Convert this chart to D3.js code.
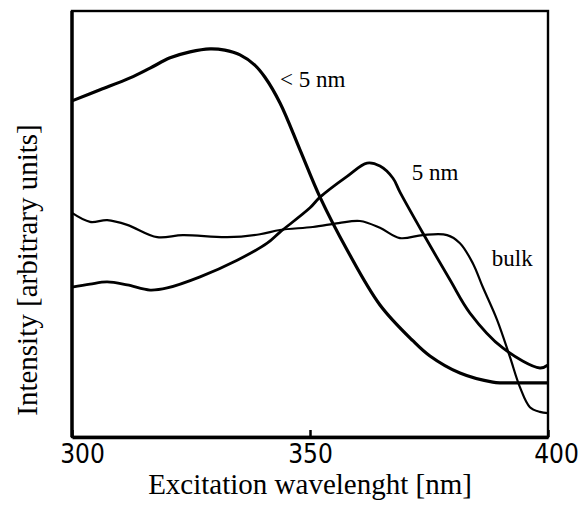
<!DOCTYPE html>
<html>
<head>
<meta charset="utf-8">
<script src="https://cdn.jsdelivr.net/npm/d3@7"></script>
<style>
  body { margin: 0; background: #fff; }
  svg { display: block; }
</style>
</head>
<body>
<svg id="chart"></svg>
<script>
// wavelength [nm] / intensity [a.u.]
const smallWl = [300, 305.9, 312.2, 316.4, 320.6, 324.8, 329.0, 332.1, 335.3, 338.4, 340.5, 343.7, 347.9, 352.1, 357.8, 364.7, 371.6, 375.2, 381.5, 388.4, 394.1, 400];
const smallI  = [78.9, 81.5, 84.3, 86.6, 89.0, 90.4, 91.1, 90.8, 89.7, 87.3, 84.5, 78.4, 67.4, 56.3, 43.9, 31.0, 22.6, 19.0, 15.0, 12.9, 12.7, 12.7];

const fiveWl = [300, 303.8, 307.4, 311.6, 316.4, 320.0, 326.9, 334.7, 341.0, 343.7, 350.0, 352.1, 357.8, 362.0, 364.7, 367.4, 368.9, 373.7, 379.4, 383.6, 390.5, 398.3, 400];
const fiveI  = [35.2, 35.9, 36.4, 35.7, 34.5, 35.0, 37.6, 41.5, 45.5, 48.1, 53.8, 56.3, 61.2, 64.3, 63.6, 60.8, 57.5, 47.9, 36.9, 29.1, 20.9, 16.2, 16.9];

const bulkWl = [300, 303.8, 307.4, 311.6, 317.9, 323.3, 332.6, 339.5, 343.7, 350.6, 356.0, 360.5, 364.7, 368.9, 373.7, 378.8, 381.5, 384.2, 386.3, 389.3, 392.0, 394.1, 396.2, 398.3, 400];
const bulkI  = [52.6, 50.5, 50.9, 49.8, 46.9, 47.4, 46.9, 47.6, 48.6, 49.3, 50.2, 50.7, 49.1, 46.7, 47.4, 47.4, 45.5, 40.8, 35.2, 27.5, 18.8, 11.7, 7.0, 5.9, 5.6];

const seriesNames = ["< 5 nm", "5 nm", "bulk"];
const labelWl = [343.7, 371.4, 388.2];
const labelI  = [82.2, 60.3, 40.1];

const xTicks = [300, 350, 400];

const W = 586, H = 511;
const margin = { top: 11, right: 38, bottom: 74, left: 72 };
const width = W - margin.left - margin.right;
const height = H - margin.top - margin.bottom;

const svg = d3.select("#chart").attr("width", W).attr("height", H);
const g = svg.append("g").attr("transform", `translate(${margin.left},${margin.top})`);

const x = d3.scaleLinear().domain([300, 400]).range([0, width]);
const y = d3.scaleLinear().domain([0, 100]).range([height, 0]);

const series = [
    { wl: smallWl, v: smallI, w: 3.2 },
    { wl: fiveWl, v: fiveI, w: 2.8 },
    { wl: bulkWl, v: bulkI, w: 2.2 }
];

const line = d3.line()
    .x(d => x(d[0]))
    .y(d => y(d[1]))
    .curve(d3.curveCatmullRom.alpha(0.5));

g.selectAll("path.curve")
    .data(series)
    .enter().append("path")
    .attr("class", "curve")
    .attr("d", s => line(s.wl.map((w, i) => [w, s.v[i]])))
    .attr("fill", "none")
    .attr("stroke", "#000")
    .attr("stroke-width", s => s.w)
    .attr("stroke-linejoin", "round");

// frame
g.append("rect")
    .attr("width", width).attr("height", height)
    .attr("fill", "none").attr("stroke", "#000").attr("stroke-width", 2.4);

g.append("line").attr("x1", 0).attr("x2", 0).attr("y1", 0).attr("y2", height)
    .attr("stroke", "#000").attr("stroke-width", 3.4);

const xAxis = g.append("g")
    .attr("transform", `translate(0,${height})`)
    .call(d3.axisBottom(x).tickValues(xTicks).tickSizeInner(-7).tickSizeOuter(0).tickPadding(8).tickFormat(d3.format("d")));

xAxis.select(".domain").attr("stroke-width", 3.4);
xAxis.selectAll(".tick line").attr("stroke-width", 2.5);
xAxis.selectAll(".tick text")
    .attr("fill", "#000")
    .attr("dy", "0.71em")
    .attr("dx", (d, i) => i === 0 ? 10 : (i === 2 ? 8 : 0))
    .style("font-family", "'DejaVu Sans', sans-serif")
    .style("font-stretch", "condensed")
    .style("font-size", "26px");

// series labels
g.selectAll("text.lbl")
    .data(seriesNames)
    .enter().append("text")
    .attr("class", "lbl")
    .attr("x", (d, i) => x(labelWl[i]))
    .attr("y", (d, i) => y(labelI[i]))
    .text(d => d)
    .style("font-family", "'Liberation Serif', 'Times New Roman', serif")
    .style("font-size", "23px");

// axis titles
svg.append("text")
    .attr("x", 310)
    .attr("y", 494)
    .attr("text-anchor", "middle")
    .text("Excitation wavelenght [nm]")
    .style("font-family", "'Liberation Serif', 'Times New Roman', serif")
    .style("font-size", "29px");

svg.append("text")
    .attr("transform", "translate(37,270) rotate(-90)")
    .attr("text-anchor", "middle")
    .text("Intensity [arbitrary units]")
    .style("font-family", "'Liberation Serif', 'Times New Roman', serif")
    .style("font-size", "29px");
</script>
</body>
</html>
